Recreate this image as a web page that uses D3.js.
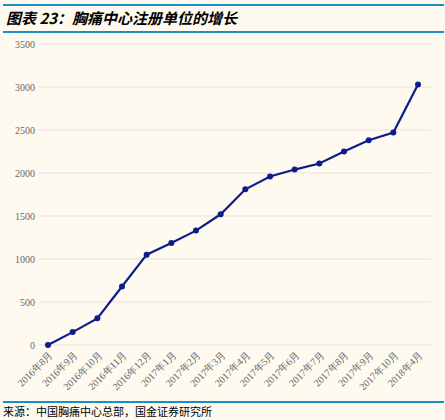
<!DOCTYPE html><html><head><meta charset="utf-8">
<script src="https://cdn.jsdelivr.net/npm/d3@7/dist/d3.min.js"></script>
<style>body{margin:0;background:#fefaf0}</style></head><body>
<script>
const categories=["2016年8月","2016年9月","2016年10月","2016年11月","2016年12月","2017年1月","2017年2月","2017年3月","2017年4月","2017年5月","2017年6月","2017年7月","2017年8月","2017年9月","2017年10月","2018年4月"];
const values=[0,150,310,680,1050,1185,1330,1520,1810,1960,2040,2110,2250,2380,2470,3030];
const yTicks=[0,500,1000,1500,2000,2500,3000,3500];
const W=445,H=420;
const svg=d3.select("body").append("svg").attr("width",W).attr("height",H).style("background","#fefaf0");
svg.append("rect").attr("x",3).attr("y",4).attr("width",441).attr("height",2).attr("fill","#1a8fc6");
svg.append("rect").attr("x",3).attr("y",31).attr("width",441).attr("height",2).attr("fill","#1a8fc6");
svg.append("rect").attr("x",3).attr("y",401).attr("width",441).attr("height",2).attr("fill","#1a8fc6");
svg.append("text").attr("x",6).attr("y",24).text("图表 23：胸痛中心注册单位的增长").attr("font-family","Noto Sans CJK SC").attr("font-weight","bold").attr("font-style","italic").attr("font-size",15).attr("fill","#000");
svg.append("text").attr("x",3).attr("y",416).text("来源：中国胸痛中心总部，国金证券研究所").attr("font-family","Noto Sans CJK SC").attr("font-size",11).attr("fill","#000");
const x=d3.scalePoint().domain(categories).range([48,418]);
const y=d3.scaleLinear().domain([0,3500]).range([345,44]);
const g=svg.append("g");
yTicks.forEach(t=>{
 g.append("line").attr("x1",39).attr("x2",431).attr("y1",y(t)).attr("y2",y(t)).attr("stroke","#e6e2da").attr("stroke-width",1);
 g.append("text").attr("x",35).attr("y",y(t)+3.5).attr("text-anchor","end").text(t).attr("font-family","Liberation Serif").attr("font-size",10).attr("fill","#666");
});
categories.forEach(c=>{
 g.append("text").attr("transform",`translate(${x(c)+3},${y(0)+8}) rotate(-45)`).attr("text-anchor","end").attr("dy","0.35em").text(c).attr("font-family","Liberation Serif").attr("font-size",10).attr("fill","#666");
});
const line=d3.line().x((d,i)=>x(categories[i])).y(d=>y(d));
g.append("path").attr("d",line(values)).attr("fill","none").attr("stroke","#0d1e8a").attr("stroke-width",2.2);
g.selectAll("circle").data(values).join("circle").attr("cx",(d,i)=>x(categories[i])).attr("cy",d=>y(d)).attr("r",3).attr("fill","#0d1e8a");
</script></body></html>
